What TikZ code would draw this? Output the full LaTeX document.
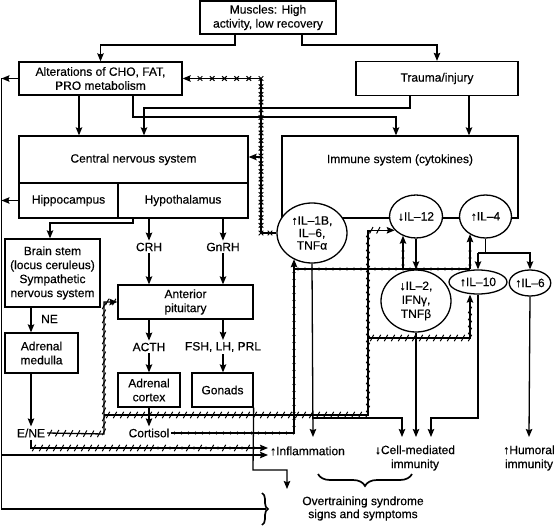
\documentclass[tikz,border=0pt]{standalone}
\usepackage{fontspec}
\setmainfont{Liberation Sans}[BoldFont=Liberation Sans,BoldFeatures={FakeBold=0.35}]
\usetikzlibrary{arrows.meta,shapes.geometric,decorations.markings,decorations.pathreplacing}
\begin{document}
\begin{tikzpicture}[x=1pt,y=-1pt,line width=1.3pt,font=\fontsize{12}{14}\selectfont\bfseries,
 arr/.style={-{Stealth[length=8pt,width=6.5pt,inset=1.2pt]}},
 box/.style={draw,fill=white,align=center,inner sep=0pt},
 ell/.style={draw,ellipse,fill=white,align=center,inner sep=0pt},
 lbl/.style={align=center,inner sep=1.5pt},
 hm/.style={postaction={decorate,decoration={markings,mark=between positions #1 with {\pgftransformresetnontranslations\draw[-,line width=1pt](-1.7pt,-3.2pt)--(1.7pt,3.2pt);}}}},
 xm/.style={postaction={decorate,decoration={markings,mark=between positions #1 with {\pgftransformresetnontranslations\draw[-,line width=1pt](-2.3pt,-2.3pt)--(2.3pt,2.3pt)(-2.3pt,2.3pt)--(2.3pt,-2.3pt);}}}},
 dm/.style={postaction={decorate,decoration={markings,mark=between positions #1 with {\fill (0pt,0pt) circle (1.6pt);}}}},
]
\useasboundingbox (0,0) rectangle (555,527);

% boxes
\node[draw,minimum width=236pt,minimum height=82pt,inner sep=0pt] (imm) at (400,177) {};
\node[lbl] (immt) at (400,160) {Immune system (cytokines)};
\node[box,minimum width=136pt,minimum height=33pt] (mus) at (268,17.5) {Muscles: High\\activity, low recovery};
\node[box,minimum width=163pt,minimum height=33pt] (alt) at (100.5,78.5) {Alterations of CHO, FAT,\\PRO metabolism};
\node[box,minimum width=162pt,minimum height=34pt] (tra) at (437,78.5) {Trauma/injury};
\node[box,minimum width=229pt,minimum height=47pt] (cns) at (133.5,159.5) {Central nervous system};
\node[box,minimum width=99pt,minimum height=35pt] (hip) at (68.5,200.5) {Hippocampus};
\node[box,minimum width=130pt,minimum height=35pt] (hyp) at (183,200.5) {Hypothalamus};
\node[box,minimum width=95pt,minimum height=68pt] (bs) at (52.5,273) {Brain stem\\(locus ceruleus)\\Sympathetic\\nervous system};
\node[box,minimum width=73pt,minimum height=40pt] (am) at (41.5,353) {Adrenal\\medulla};
\node[box,minimum width=135pt,minimum height=34pt] (ap) at (185.5,302) {Anterior\\pituitary};
\node[box,minimum width=62pt,minimum height=34pt] (ac) at (149,390) {Adrenal\\cortex};
\node[box,minimum width=61pt,minimum height=34pt] (gon) at (222.5,390) {Gonads};

% ellipses
\node[ell,minimum width=70pt,minimum height=60pt,font=\fontsize{12}{12.5}\selectfont\bfseries] (il1) at (312,233) {↑IL–1B,\\IL–6,\\TNFα};
\node[ell,minimum width=53pt,minimum height=43pt] (il12) at (416,216.5) {↓IL–12};
\node[ell,minimum width=52pt,minimum height=43pt] (il4) at (485.5,216.5) {↑IL–4};
\node[ell,minimum width=70pt,minimum height=62pt] (il2) at (416,301) {↓IL–2,\\IFNγ,\\TNFβ};
\node[ell,minimum width=58pt,minimum height=24pt] (il10) at (478,282) {↑IL–10};
\node[ell,minimum width=40pt,minimum height=26pt] (il6) at (530,283) {↑IL–6};

% labels
\node[lbl] (crh) at (149,247) {CRH};
\node[lbl] (gnrh) at (223,247) {GnRH};
\node[lbl] (acth) at (149,347) {ACTH};
\node[lbl] (fsh) at (223,347) {FSH, LH, PRL};
\node[lbl] (ne) at (49.5,319) {NE};
\node[lbl] (ene) at (31,433) {E/NE};
\node[lbl] (cort) at (149,433) {Cortisol};
\node[lbl,anchor=west] (infl) at (268,451) {↑Inflammation};
\node[lbl] (cmi) at (415,458) {↓Cell-mediated\\immunity};
\node[lbl] (hum) at (529,458) {↑Humoral\\immunity};
\node[lbl,font=\fontsize{12}{13}\selectfont\bfseries] (ovt) at (363,508.5) {Overtraining syndrome\\signs and symptoms};

% tip coordinates
\coordinate (inflTip) at (313,437);
\coordinate (cmiTipA) at (402,437);
\coordinate (cmiTipB) at (416,437);
\coordinate (cmiTipC) at (431,437);
\coordinate (humTip) at (529,437);
\coordinate (inflTipA) at (268,448);
\coordinate (inflTipB) at (268,455);
\coordinate (gonEnd) at (287,489);
\coordinate (trunkTop) at (1.5,78.5);
\coordinate (braceTip) at (266,509);

% top connectors
\draw[arr] (mus.south -| 235,0) -- (235,45) -| (alt);
\draw[arr] (mus.south -| 302,0) -- (302,45) -| (tra);
\draw[arr] (alt.south -| 79,0) -- (cns.north -| 79,0);
\draw[arr] (alt.south -| 133,0) -- (133,117) -| (imm.north -| 396,0);
\draw[arr] (tra.south -| 410,0) -- (410,108) -| (cns.north -| 144,0);
\draw[arr] (tra.south -| 469,0) -- (imm.north -| 469,0);

% left trunk
\draw[arr] (alt.west) -- (alt.west -| trunkTop);
\draw[arr] (hip.west) -- (hip.west -| trunkTop);
\draw (trunkTop) -- (1.5,509) -- (braceTip);
\draw[arr] (1.5,455) -- (inflTipB);
\draw[line width=1.7pt,decorate,decoration={brace,amplitude=6pt}] (262,493) -- (262,525);
\draw[line width=1.7pt,decorate,decoration={brace,amplitude=12pt}] (412,474) -- (318,474);

% neuroendocrine
\draw[arr] (hyp.south -| 133,0) -- (133,223) -| (bs.north -| 50,0);
\draw[arr] (hyp.south -| crh) -- (crh);
\draw[arr] (crh) -- (ap.north -| crh);
\draw[arr] (hyp.south -| gnrh) -- (gnrh);
\draw[arr] (gnrh) -- (ap.north -| gnrh);
\draw[arr] (ap.south -| acth) -- (acth);
\draw[arr] (acth) -- (ac.north -| acth);
\draw[arr] (ap.south -| fsh) -- (fsh);
\draw[arr] (fsh) -- (gon.north -| fsh);
\draw[arr] (bs.south -| 31,0) -- (am.north -| 31,0);
\draw[arr] (am.south -| ene) -- (ene);
\draw[arr] (ac.south) -- (cort);
\draw[arr] (gon.south east) -- (253,470) -| (gonEnd);

% immune internal
\draw[arr] (il12) -- (il2);
\draw (il4.south) -- (il4.south |- 0,253);
\draw[arr] (il10 |- 0,253) -- (il10);
\draw[arr] (il10 |- 0,253) -| (il6);
\draw[arr] (il1.south) -- (inflTip);
\draw[arr] (il1.south |- 0,418) -| (cmiTipA);
\draw[arr] (il2.south) -- (cmiTipB);
\draw[arr] (il10.south) -- (il10.south |- 0,418) -| (cmiTipC);
\draw[arr] (il6.south) -- (humTip);

% crossed network (cytokines -> CNS, metabolism)
\draw[arr] (il1.west) -- (261,233) -- (261,78.5) -- (alt.east);
\path[xm={0pt and -1pt step 7.7pt}] (261,233) -- (261,79);
\path[xm={0pt and -14pt step 12.2pt}] (261,78.5) -- (182,78.5);
\path[xm={9pt and 9.5pt step 5pt}] (261,233) -- (277,233);
\draw[arr] (261,157) -- (cns.east |- 0,157);

% hatched network (E/NE)
\draw[arr,hm={3pt and -1pt step 7pt}] (ene.east) -- (104,434) |- (ap.west);
\draw[arr,hm={4pt and -10pt step 7pt}] (104,415) -- (368,415) |- (il12.213);
\draw[arr,hm={4pt and -10pt step 7pt}] (368,338) -| (il10.south -| 470,0);
\draw[arr] (ene.south) -- (ene.south |- 0,448) -- (inflTipA);
\path[hm={3pt and -1pt step 7pt}] (31,448) -- (150,448);
\path[hm={0pt and -1pt step 12pt}] (152,448) -- (258,448);
\path[dm={6pt and -1pt step 12pt}] (152,448) -- (258,448);

% dotted network (cortisol)
\draw[arr,dm={3pt and -10pt step 7pt}] (cort.east) -- (294,433) -- (il1.235 -| 294,0);
\draw[dm={4pt and -1pt step 7pt}] (294,269) -- (470,269);
\draw[arr,dm={4pt and -10pt step 7pt}] (403,269) -- (il12.235 -| 403,0);
\draw[arr,dm={4pt and -10pt step 7pt}] (470,269) -- (il4.228 -| 470,0);
\end{tikzpicture}
\end{document}
